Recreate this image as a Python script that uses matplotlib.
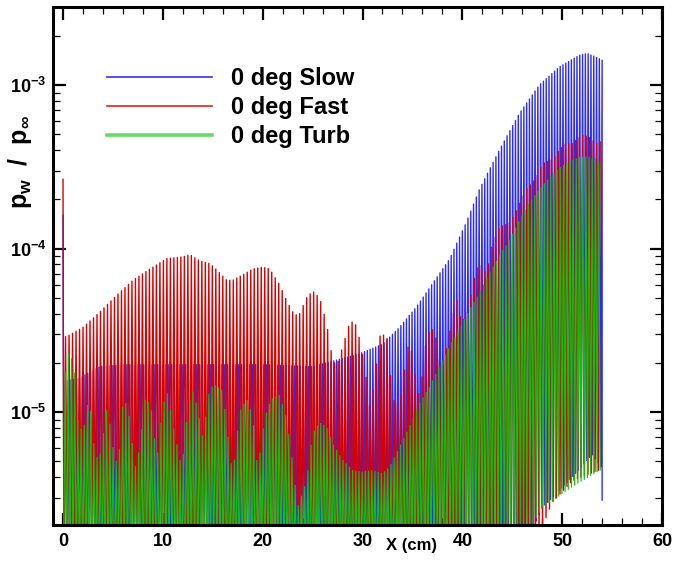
import numpy as np
import matplotlib
matplotlib.use('Agg')
import matplotlib.pyplot as plt
from matplotlib.lines import Line2D
from matplotlib.ticker import LogLocator, MultipleLocator, NullFormatter

plt.rcParams['font.family'] = ['Liberation Sans', 'DejaVu Sans']
plt.rcParams['font.weight'] = 'bold'

# envelope knots: x in cm, value = p_w / p_inf
# --- 0 deg Slow (blue)
slow_hi_x = [0.2, 1.5, 3.7, 6, 10, 15, 20, 25, 27, 29.5, 32, 33.7, 35.4, 37, 38.7,
             40.4, 41.7, 43.7, 45.7, 47.7, 49.7, 51.7, 52.5, 53.4, 54.0]
slow_hi = [1.55e-5, 1.6e-5, 1.9e-5, 1.95e-5, 1.95e-5, 1.95e-5, 1.95e-5, 1.9e-5, 2.05e-5,
           2.25e-5, 2.6e-5, 3.3e-5, 4.4e-5, 6.1e-5, 8.6e-5, 1.45e-4, 2.3e-4, 4.0e-4,
           6.7e-4, 1.0e-3, 1.29e-3, 1.52e-3, 1.56e-3, 1.48e-3, 1.42e-3]
slow_lo_x = [0, 45, 48, 51, 53, 54]
slow_lo = [1e-6, 1e-6, 2.6e-6, 4e-6, 5.5e-6, 4.5e-6]
slow_spike = 1.6e-4
slow_end = 2.9e-6

# --- 0 deg Fast (red)
fast_hi_x = [0.4, 2, 3.7, 5.4, 7, 8.7, 10.4, 12, 12.7, 13.7, 14.7, 15.4, 16.4, 17, 18,
             19, 20, 20.7, 21.7, 22.4, 23.2, 23.7, 24.4, 25, 25.7, 26.4, 27, 27.4, 28,
             28.7, 29.2, 29.7, 30.2, 30.7, 31.2, 31.7, 32, 32.5, 33, 33.7, 34.2, 34.7,
             35.2, 35.7, 36.4, 36.9, 37.4, 37.9, 38.5, 39.4, 39.9, 40.4, 41.4, 41.9,
             42.4, 43, 43.7, 44.7, 45.4, 46.4, 47.4, 48, 49, 49.7, 50.4, 51, 52, 52.7,
             53.4, 53.9]
fast_hi = [2.9e-5, 3.3e-5, 4.1e-5, 5.2e-5, 6.4e-5, 7.5e-5, 8.7e-5, 8.9e-5, 9.2e-5, 8.4e-5,
           8.1e-5, 7.4e-5, 6.4e-5, 6.4e-5, 6.9e-5, 7.5e-5, 7.7e-5, 7.5e-5, 6.0e-5, 4.8e-5,
           3.9e-5, 4.0e-5, 5.0e-5, 5.5e-5, 5.0e-5, 3.5e-5, 2.1e-5, 1.9e-5, 2.5e-5, 3.5e-5,
           3.6e-5, 2.8e-5, 1.95e-5, 1.1e-5, 1.5e-5, 2.9e-5, 3.0e-5, 2.8e-5, 1.2e-5, 1.1e-5,
           1.8e-5, 2.85e-5, 1.8e-5, 1.2e-5, 2.85e-5, 3.3e-5, 2.8e-5, 1.73e-5, 2.6e-5, 5.0e-5,
           3.6e-5, 3.8e-5, 7.5e-5, 7.9e-5, 7.0e-5, 1.05e-4, 1.35e-4, 1.43e-4, 1.7e-4, 2.3e-4,
           2.7e-4, 3.3e-4, 3.5e-4, 4.0e-4, 4.4e-4, 4.4e-4, 4.95e-4, 4.8e-4, 4.4e-4, 4.5e-4]
fast_lo_x = [0, 46, 49, 51, 54]
fast_lo = [1e-6, 1e-6, 2.8e-6, 3.8e-6, 4.5e-6]
fast_spike = 2.65e-4

# --- 0 deg Turb (green)
turb_hi_x = [0.2, 0.5, 0.9, 1.2, 1.5, 2.0, 2.5, 2.9, 3.2, 3.9, 4.2, 4.5, 4.9, 5.5, 6.0,
             6.4, 6.7, 7.2, 7.7, 8.2, 8.5, 8.9, 9.4, 10.0, 10.5, 10.9, 11.9, 12.4, 12.9,
             13.4, 14.0, 14.7, 15.2, 16.0, 16.7, 17.0, 17.7, 18.4, 19.0, 19.5, 20.2, 20.9,
             21.7, 22.4, 23.0, 23.5, 24.4, 25.0, 25.7, 26.4, 27.0, 28.0, 29.0, 30.0, 31.0,
             32.0, 32.7, 33.7, 34.7, 35.7, 36.7, 37.7, 38.7, 39.7, 40.7, 41.7, 42.7, 43.7,
             44.7, 45.7, 46.7, 47.7, 48.7, 49.7, 50.7, 51.7, 52.5, 53.4, 53.9]
turb_hi = [1.75e-5, 2.3e-5, 2.1e-5, 1.7e-5, 8.7e-6, 7.4e-6, 1.15e-5, 9.5e-6, 5.1e-6, 5.7e-6,
           9.6e-6, 1.07e-5, 6.5e-6, 4.5e-6, 1.13e-5, 1.13e-5, 8.7e-6, 4.5e-6, 6.1e-6, 1.18e-5,
           1.16e-5, 1.0e-5, 5.0e-6, 1.1e-5, 1.32e-5, 9e-6, 4.5e-6, 9e-6, 1.4e-5, 1.1e-5,
           7e-6, 1.4e-5, 1.46e-5, 1.35e-5, 5.7e-6, 4.1e-6, 1.0e-5, 1.2e-5, 9.5e-6, 4.4e-6,
           9.3e-6, 1.2e-5, 1.27e-5, 9e-6, 4.9e-6, 2.6e-6, 3.8e-6, 7.4e-6, 8.6e-6, 8.1e-6,
           6.4e-6, 5.1e-6, 4.4e-6, 4.3e-6, 4.4e-6, 4.2e-6, 4.6e-6, 6.1e-6, 8.1e-6, 1.13e-5,
           1.42e-5, 1.9e-5, 2.5e-5, 3.2e-5, 4.2e-5, 5.3e-5, 7e-5, 9e-5, 1.12e-4, 1.48e-4,
           1.9e-4, 2.3e-4, 2.7e-4, 3.1e-4, 3.4e-4, 3.6e-4, 3.65e-4, 3.5e-4, 3.3e-4]
turb_lo_x = [0, 44, 48, 51, 54]
turb_lo = [1e-6, 1e-6, 2.6e-6, 3.5e-6, 4.5e-6]

labels = ['0 deg Slow', '0 deg Fast', '0 deg Turb']


def zigzag(hx, hv, lx, lv, x0, x1, period):
    # the wall-pressure trace oscillates between the two envelopes
    xs = np.arange(x0, x1 + 1e-9, period / 2)
    hi = 10 ** np.interp(xs, hx, np.log10(hv))
    lo = 10 ** np.interp(xs, lx, np.log10(lv))
    ys = np.where(np.arange(len(xs)) % 2 == 0, lo, hi)
    return xs, ys


fig = plt.figure(figsize=(6.73, 5.65), dpi=100)
ax = fig.add_axes([0.0788, 0.0708, 0.9049, 0.9168])

xs, ys = zigzag(slow_hi_x, slow_hi, slow_lo_x, slow_lo, 0.1, 54.0, 0.28)
ax.plot(np.r_[0, xs, xs[-1]], np.r_[slow_spike, ys, slow_end], color='#2a2aff', lw=1.0)

xs, ys = zigzag(fast_hi_x, fast_hi, fast_lo_x, fast_lo, 0.08, 53.95, 0.35)
ax.plot(np.r_[0, xs], np.r_[fast_spike, ys], color='#d80000', lw=1.0)

xs, ys = zigzag(turb_hi_x, turb_hi, turb_lo_x, turb_lo, 0.05, 53.95, 0.32)
ax.plot(xs, ys, color='#10c010', lw=0.85)

ax.set_yscale('log')
ax.set_xlim(-1, 60)
ax.set_ylim(2.04e-6, 3.0e-3)

ax.xaxis.set_major_locator(MultipleLocator(10))
ax.xaxis.set_minor_locator(MultipleLocator(2))
ax.yaxis.set_major_locator(LogLocator(base=10))
ax.yaxis.set_minor_locator(LogLocator(base=10, subs=np.arange(2, 10)))
ax.yaxis.set_minor_formatter(NullFormatter())
ax.tick_params(which='both', direction='in', top=True, right=True, labelsize=13)
ax.tick_params(which='major', length=9, width=1.6)
ax.tick_params(which='minor', length=5, width=0.9)
ax.tick_params(axis='x', pad=6)
ax.tick_params(axis='y', pad=5)
for s in ax.spines.values():
    s.set_linewidth(2.2)

ax.set_xlabel('X (cm)', fontsize=12, fontweight='bold')
ax.xaxis.set_label_coords(0.588, -0.025)
ax.set_ylabel(r'p$_\mathregular{w}$  /  p$_\mathregular{\infty}$', fontsize=18,
              fontweight='bold')
ax.yaxis.set_label_coords(-0.031, 0.70)

handles = [Line2D([], [], color='#3030ff', lw=1.2),
           Line2D([], [], color='#e02020', lw=1.2),
           Line2D([], [], color='#66dd66', lw=2.6)]
ax.legend(handles, labels, loc='upper left', bbox_to_anchor=(0.054, 0.925), frameon=False,
          fontsize=17, handlelength=4.45, handletextpad=0.8, labelspacing=0.25)

fig.savefig('out.png', dpi=100)
